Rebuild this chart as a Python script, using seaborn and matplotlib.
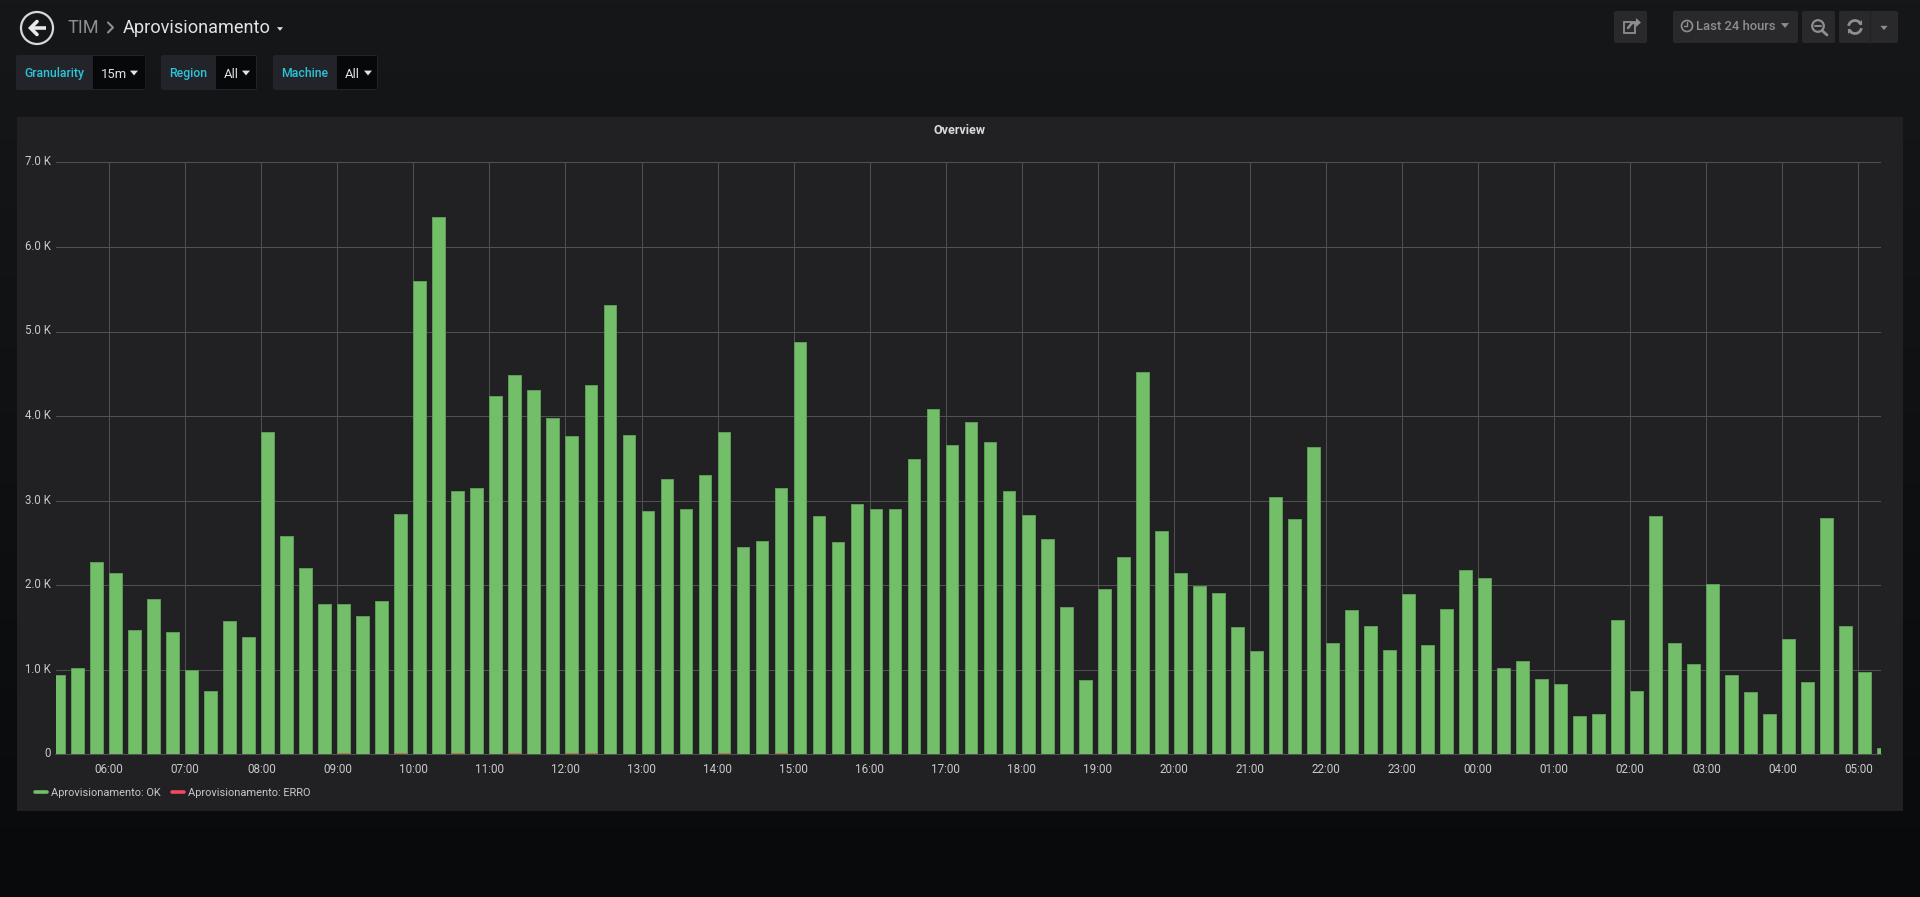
import numpy as np
import pandas as pd
import matplotlib.pyplot as plt
import seaborn as sns
from matplotlib.lines import Line2D
from matplotlib.patches import Circle, FancyBboxPatch, Polygon, Rectangle, Arc
from matplotlib.transforms import ScaledTranslation

# Values, one bar every 15 minutes starting at 05:15
ok_values = [
    935, 1017, 2271, 2150, 1466, 1832, 1442, 993, 747, 1581, 1389, 3814,
    2584, 2203, 1774, 1774, 1639, 1818, 2845, 5598, 6350, 3110, 3153, 4238,
    4484, 4311, 3983, 3766, 4373, 5309, 3780, 2883, 3250, 2898, 3298, 3809,
    2449, 2527, 3153, 4875, 2816, 2512, 2965, 2898, 2903, 3491, 4079, 3655,
    3930, 3689, 3115, 2830, 2546, 1745, 873, 1953, 2329, 4523, 2642, 2146,
    1987, 1909, 1509, 1225, 3047, 2787, 3640, 1312, 1712, 1519, 1230, 1890,
    1287, 1721, 2175, 2088, 1017, 1099, 887, 829, 448, 473, 1586, 747,
    2816, 1312, 1070, 2015, 940, 738, 473, 1360, 853, 2797, 1514, 969, 72,
]
erro_values = [
    0, 0, 0, 0, 0, 0, 0, 0, 0, 0, 0, 0,
    0, 0, 0, 12, 0, 0, 12, 0, 0, 15, 0, 0,
    15, 0, 0, 15, 15, 0, 0, 0, 0, 0, 0, 15,
    0, 0, 20, 0, 0, 0, 0, 0, 0, 0, 0, 0,
    0, 0, 0, 0, 0, 0, 0, 0, 0, 0, 0, 0,
    0, 0, 0, 0, 0, 0, 0, 0, 0, 0, 0, 0,
    0, 0, 0, 0, 0, 0, 0, 0, 0, 0, 0, 0,
    0, 0, 0, 0, 0, 0, 0, 0, 0, 0, 0, 0, 0,
]
hour_labels = ['06:00', '07:00', '08:00', '09:00', '10:00', '11:00', '12:00', '13:00',
               '14:00', '15:00', '16:00', '17:00', '18:00', '19:00', '20:00', '21:00',
               '22:00', '23:00', '00:00', '01:00', '02:00', '03:00', '04:00', '05:00']
y_ticks = [0, 1000, 2000, 3000, 4000, 5000, 6000, 7000]
y_labels = ['0', '1.0 K', '2.0 K', '3.0 K', '4.0 K', '5.0 K', '6.0 K', '7.0 K']

W, H = 1920, 897
GREEN = '#73bf69'
RED = '#f2495c'
PANEL = '#212124'
GRID = '#505052'
CYAN = '#2bc4d8'
MUTED = '#8e8e8e'
LIGHT = '#e3e3e3'
BAR_WIDTH = 0.668

sns.set_theme(style='dark')
plt.rcParams['font.family'] = ['Roboto', 'DejaVu Sans']

# Bars start at their timestamp in the panel, seaborn centres them
slots = pd.date_range('2018-01-01 05:15', periods=len(ok_values), freq='15min')
hours = (slots - pd.Timestamp('2018-01-01')) / pd.Timedelta(hours=1)
df = pd.DataFrame({'hour': hours + 0.25 * BAR_WIDTH / 2, 'ok': ok_values, 'erro': erro_values})

fig = plt.figure(figsize=(W / 100, H / 100), dpi=100)

# Page chrome drawn in pixel coordinates
ui = fig.add_axes([0, 0, 1, 1])
ui.axis('off')
gradient = np.linspace(0, 1, 256).reshape(-1, 1)
top, bottom = np.array([0x16, 0x17, 0x19]), np.array([0x09, 0x0a, 0x0c])
ui.imshow((top + (bottom - top) * gradient[..., None]).astype(np.uint8),
          extent=(0, W, H, 0), aspect='auto')
ui.set_xlim(0, W)
ui.set_ylim(H, 0)


def box(x0, x1, y0, y1, color, rad=2):
    ui.add_patch(FancyBboxPatch((x0 + rad, y0 + rad), x1 - x0 - 2 * rad, y1 - y0 - 2 * rad,
                                boxstyle=f'round,pad={rad},rounding_size={rad}',
                                fc=color, ec='none'))


def caret(x, y, size, color):
    ui.add_patch(Polygon([(x - size, y - size * 0.6), (x + size, y - size * 0.6), (x, y + size * 0.6)],
                         closed=True, fc=color, ec='none'))


ui.add_patch(Rectangle((17, 117), 1886, 694, fc=PANEL, ec='none'))

# Back button and breadcrumb
ui.add_patch(Circle((37, 28), 16, fc='none', ec='#d8d9da', lw=1.6))
ui.plot([46, 31], [28, 28], color='#e8e8e8', lw=2.6, solid_capstyle='butt')
ui.plot([37, 30.5, 37], [21.5, 28, 34.5], color='#e8e8e8', lw=2.6, solid_joinstyle='miter')
ui.text(67, 28, 'TIM', color=MUTED, fontsize=13.1, va='center')
ui.plot([108, 113, 108], [22.5, 27.5, 32.5], color=MUTED, lw=1.5)
ui.text(123, 28, 'Aprovisionamento', color=LIGHT, fontsize=13.1, va='center')
caret(280, 29, 3, LIGHT)

# Template variable pickers
pickers = [('Granularity', '15m', 16, 93, 145.5, 134),
           ('Region', 'All', 161, 216, 257, 246),
           ('Machine', 'All', 273, 337, 378, 368)]
for label, value, x0, xm, x1, cx in pickers:
    box(x0, x1, 55, 90, '#222429')
    ui.add_patch(Rectangle((xm, 56), x1 - xm - 1, 33, fc='#07080a', ec='none'))
    ui.text(x0 + 8.5, 73.5, label, color=CYAN, fontsize=8.8, weight='medium', va='center')
    ui.text(xm + 8, 74, value, color=LIGHT, fontsize=9.4, va='center')
    caret(cx, 73, 4, LIGHT)

# Toolbar
box(1614, 1647, 11, 43, '#29292c')
box(1673, 1798, 11, 43, '#29292c')
box(1802, 1835, 11, 43, '#29292c')
box(1839, 1898, 11, 43, '#29292c')
ui.plot([1870, 1870], [11, 43], color='#222224', lw=1)
ui.add_patch(Rectangle((1624, 22), 11, 11, fc='none', ec=MUTED, lw=1.3))
ui.plot([1628, 1632, 1637], [28, 23, 23], color=MUTED, lw=1.8)
ui.add_patch(Polygon([(1636, 18), (1641, 22.5), (1636, 27)], closed=True, fc=MUTED, ec='none'))
ui.add_patch(Circle((1687, 26), 5.5, fc='none', ec=MUTED, lw=1.2))
ui.plot([1687, 1687, 1684], [22.5, 26.5, 26.5], color=MUTED, lw=1)
ui.text(1696, 26.5, 'Last 24 hours', color=MUTED, fontsize=9.4, weight='medium', va='center')
caret(1785, 25.5, 4, MUTED)
ui.add_patch(Circle((1818, 26), 5.8, fc='none', ec=MUTED, lw=1.6))
ui.plot([1822, 1827], [30.5, 35], color=MUTED, lw=2)
ui.plot([1815, 1821], [26, 26], color=MUTED, lw=1.4)
ui.add_patch(Arc((1855, 27), 13, 13, theta1=190, theta2=340, ec=MUTED, lw=2))
ui.add_patch(Arc((1855, 27), 13, 13, theta1=10, theta2=160, ec=MUTED, lw=2))
ui.add_patch(Polygon([(1858, 24), (1862, 20), (1862, 25)], closed=True, fc=MUTED, ec='none'))
ui.add_patch(Polygon([(1852, 30), (1848, 34), (1848, 29)], closed=True, fc=MUTED, ec='none'))
caret(1884, 28, 3.6, MUTED)

# Panel title
ui.text(960, 130.5, 'Overview', color='#d8d9da', fontsize=9, weight='bold', ha='center', va='center')

# Chart
ax = fig.add_axes([55.5 / W, 1 - 754.3 / H, (1880.8 - 55.5) / W, (754.3 - 162.4) / H])
ax.set_facecolor(PANEL)
sns.barplot(data=df, x='hour', y='ok', native_scale=True, width=BAR_WIDTH, color=GREEN,
            saturation=1, edgecolor='#5f9c58', linewidth=0.7, ax=ax)
sns.barplot(data=df, x='hour', y='erro', native_scale=True, width=BAR_WIDTH, color='#b5754a',
            saturation=1, linewidth=0, ax=ax)

ax.set_xlim(5.294, 29.295)
ax.set_ylim(0, 7000)
ax.set_xticks(np.arange(6, 6 + len(hour_labels)))
ax.set_xticklabels(hour_labels)
ax.set_yticks(y_ticks)
ax.set_yticklabels(y_labels)
ax.set_xlabel('')
ax.set_ylabel('')
ax.set_axisbelow(True)
ax.grid(True, color=GRID, linewidth=0.72)
ax.tick_params(axis='x', length=0, pad=6, labelsize=8.4, labelcolor='#c8c9ca')
ax.tick_params(axis='y', length=0, pad=3.2, labelsize=8.3, labelcolor='#c8c9ca')
for side in ['left', 'right', 'top']:
    ax.spines[side].set_visible(False)
ax.spines['bottom'].set_color(GRID)
ax.spines['bottom'].set_linewidth(0.72)

# y labels sit a little above their grid lines
nudge = ScaledTranslation(0, 1.5 / 72, fig.dpi_scale_trans)
for lab in ax.get_yticklabels():
    lab.set_transform(lab.get_transform() + nudge)

handles = [Line2D([], [], color=GREEN, lw=2.6, solid_capstyle='round'),
           Line2D([], [], color=RED, lw=2.6, solid_capstyle='round')]
ax.legend(handles, ['Aprovisionamento: OK', 'Aprovisionamento: ERRO'], ncol=2, frameon=False,
          loc='center left', bbox_to_anchor=(35 / W, 1 - 793 / H), bbox_transform=fig.transFigure,
          fontsize=7.9, labelcolor='#c8c9ca', handlelength=1.1, handletextpad=0.4,
          columnspacing=0.95, borderpad=0, borderaxespad=0)

fig.savefig('out.png', dpi=100)
